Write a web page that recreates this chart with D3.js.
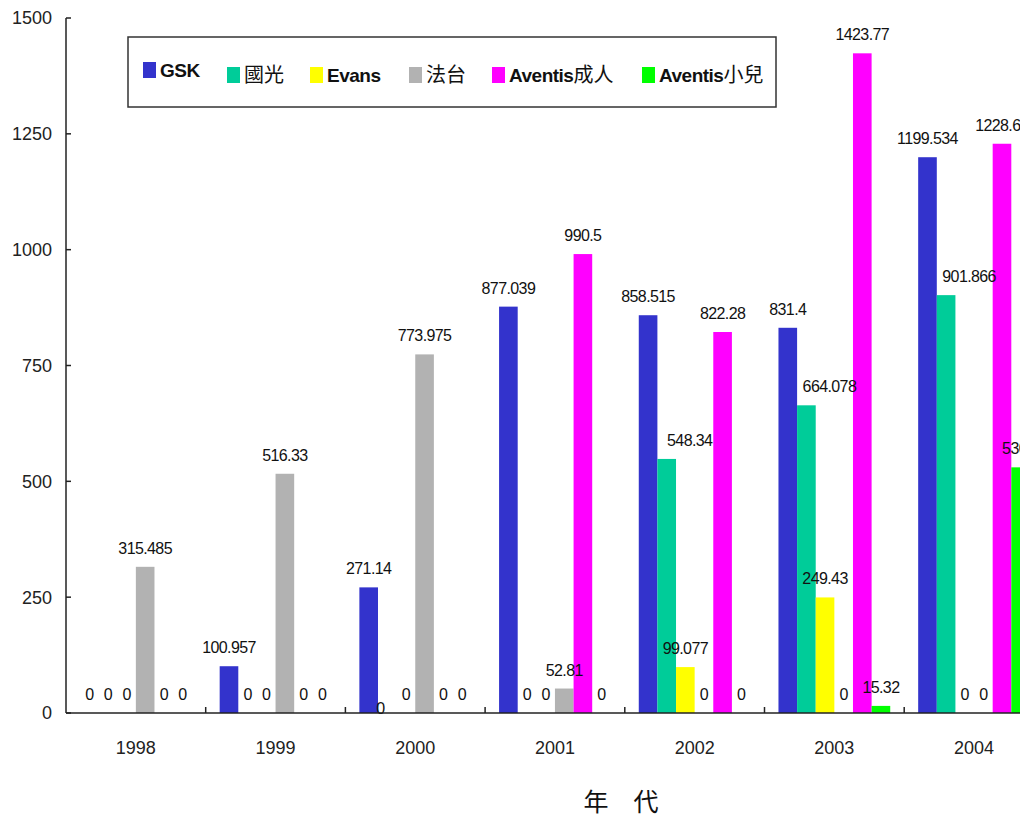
<!DOCTYPE html>
<html>
<head>
<meta charset="utf-8">
<script src="https://cdn.jsdelivr.net/npm/d3@7"></script>
<style>
  body { margin: 0; background: #fff; }
  svg { display: block; font-family: "Liberation Sans", Arial, sans-serif; }
</style>
</head>
<body>
<div id="chart"></div>
<script>
// 年ごとのデータ
const years = ["1998", "1999", "2000", "2001", "2002", "2003", "2004"];
const seriesNames = ["GSK", "國光", "Evans", "法台", "Aventis成人", "Aventis小兒"];
const seriesColors = ["#3333CC", "#00CC99", "#FFFF00", "#B2B2B2", "#FF00FF", "#00FF00"];
const gsk      = [0, 100.957, 271.14, 877.039, 858.515, 831.4, 1199.534];
const guoguang = [0, 0, 0, 0, 548.34, 664.078, 901.866];
const evans    = [0, 0, 0, 0, 99.077, 249.43, 0];
const fatai    = [315.485, 516.33, 773.975, 52.81, 0, 0, 0];
const aventisA = [0, 0, 0, 990.5, 822.28, 1423.77, 1228.61];
const aventisC = [0, 0, 0, 0, 0, 15.32, 530.2];
const yTicks = [0, 250, 500, 750, 1000, 1250, 1500];
const xTitle = "年　代";

const values = [gsk, guoguang, evans, fatai, aventisA, aventisC];
const width = 1025, height = 823;
const margin = {top: 18, left: 66, bottom: 110};
const plotRight = 1020;
const bandW = 139.7;

const svg = d3.select("#chart").append("svg")
    .attr("width", width)
    .attr("height", height);

svg.append("defs").append("clipPath").attr("id", "clip")
  .append("rect").attr("x", 0).attr("y", 0).attr("width", plotRight).attr("height", height);

// スケール
const x0 = d3.scaleBand().domain(years)
    .range([margin.left, margin.left + bandW * years.length]).padding(0);
const x1 = d3.scaleBand().domain(seriesNames)
    .range([0, x0.bandwidth()]).paddingInner(0).paddingOuter(0.75);
const y = d3.scaleLinear().domain([0, 1500]).range([713, margin.top]);

const data = [];
years.forEach(function(yr, i) {
  seriesNames.forEach(function(s, j) {
    data.push({year: yr, series: s, idx: j, value: values[j][i]});
  });
});

const plot = svg.append("g").attr("clip-path", "url(#clip)");

// 棒
plot.selectAll(".bar")
    .data(data)
    .enter().append("rect")
    .attr("class", "bar")
    .attr("x", d => x0(d.year) + x1(d.series))
    .attr("width", x1.bandwidth())
    .attr("y", d => y(d.value))
    .attr("height", d => y(0) - y(d.value))
    .attr("fill", d => seriesColors[d.idx]);

// 値ラベル
plot.selectAll(".lbl")
    .data(data)
    .enter().append("text")
    .attr("class", "lbl")
    .attr("x", function(d) {
      let cx = x0(d.year) + x1(d.series) + x1.bandwidth() / 2;
      if (d.idx === 1 && d.value > 0) cx += 23; // 國光のラベルは右寄り
      if (d.idx === 1 && d.year === "2000") cx -= 7;
      return cx;
    })
    .attr("y", function(d) {
      if (d.idx === 1 && d.year === "2000") return y(0) + 1; // 下にずれている
      return y(d.value) - 13;
    })
    .attr("text-anchor", "middle")
    .attr("font-size", "16px")
    .attr("letter-spacing", "-0.6px")
    .attr("fill", "#111")
    .text(d => d.value);

// X軸
const xAxis = plot.append("g");
xAxis.append("line")
    .attr("x1", margin.left).attr("x2", plotRight)
    .attr("y1", y(0)).attr("y2", y(0))
    .attr("stroke", "#222").attr("stroke-width", 1.5);
xAxis.selectAll(".xt")
    .data(years.slice(1))
    .enter().append("line")
    .attr("x1", d => x0(d)).attr("x2", d => x0(d))
    .attr("y1", y(0)).attr("y2", y(0) - 6)
    .attr("stroke", "#222").attr("stroke-width", 1.5);
xAxis.selectAll(".xl")
    .data(years)
    .enter().append("text")
    .attr("x", d => x0(d) + x0.bandwidth() / 2)
    .attr("y", 754)
    .attr("text-anchor", "middle")
    .attr("font-size", "18px")
    .attr("fill", "#222")
    .text(d => d);

// Y軸
const yAxis = svg.append("g");
yAxis.append("line")
    .attr("x1", margin.left).attr("x2", margin.left)
    .attr("y1", y(1500)).attr("y2", y(0))
    .attr("stroke", "#222").attr("stroke-width", 1.5);
yAxis.selectAll(".yt")
    .data(yTicks)
    .enter().append("line")
    .attr("x1", margin.left).attr("x2", margin.left + 5)
    .attr("y1", d => y(d)).attr("y2", d => y(d))
    .attr("stroke", "#222").attr("stroke-width", 1.5);
yAxis.selectAll(".yl")
    .data(yTicks)
    .enter().append("text")
    .attr("x", 52)
    .attr("y", d => y(d))
    .attr("dy", "0.36em")
    .attr("text-anchor", "end")
    .attr("font-size", "18px")
    .attr("fill", "#222")
    .text(d => d);

// 軸タイトル
svg.append("text")
    .attr("x", 621).attr("y", 811)
    .attr("text-anchor", "middle")
    .attr("font-family", "'Noto Sans CJK TC', sans-serif")
    .attr("font-size", "25px")
    .attr("fill", "#111")
    .text(xTitle);

// 凡例
const legend = svg.append("g");
legend.append("rect")
    .attr("x", 128).attr("y", 37).attr("width", 648).attr("height", 70)
    .attr("fill", "#fff").attr("stroke", "#333").attr("stroke-width", 1.5);
const legendX = [143, 227, 310, 409, 492, 642];
const items = legend.selectAll(".item")
    .data(seriesNames)
    .enter().append("g")
    .attr("transform", (d, i) => "translate(" + legendX[i] + "," + (i === 0 ? 77 : 82) + ")");
items.append("rect")
    .attr("x", 0).attr("y", -15).attr("width", 13).attr("height", 16)
    .attr("fill", (d, i) => seriesColors[i]);
items.append("text")
    .attr("x", 17).attr("y", 0)
    .attr("font-size", "19px")
    .attr("letter-spacing", "-0.5px")
    .attr("fill", "#111")
    .each(function(d) {
      // ラテン文字は太字、漢字は通常
      const t = d3.select(this);
      const m = d.match(/^([A-Za-z]*)(.*)$/);
      if (m[1]) t.append("tspan").attr("font-weight", "bold").text(m[1]);
      if (m[2]) t.append("tspan")
          .attr("font-family", "'Noto Sans CJK TC', sans-serif")
          .attr("font-size", "20px")
          .attr("letter-spacing", "0px")
          .text(m[2]);
    });
</script>
</body>
</html>
